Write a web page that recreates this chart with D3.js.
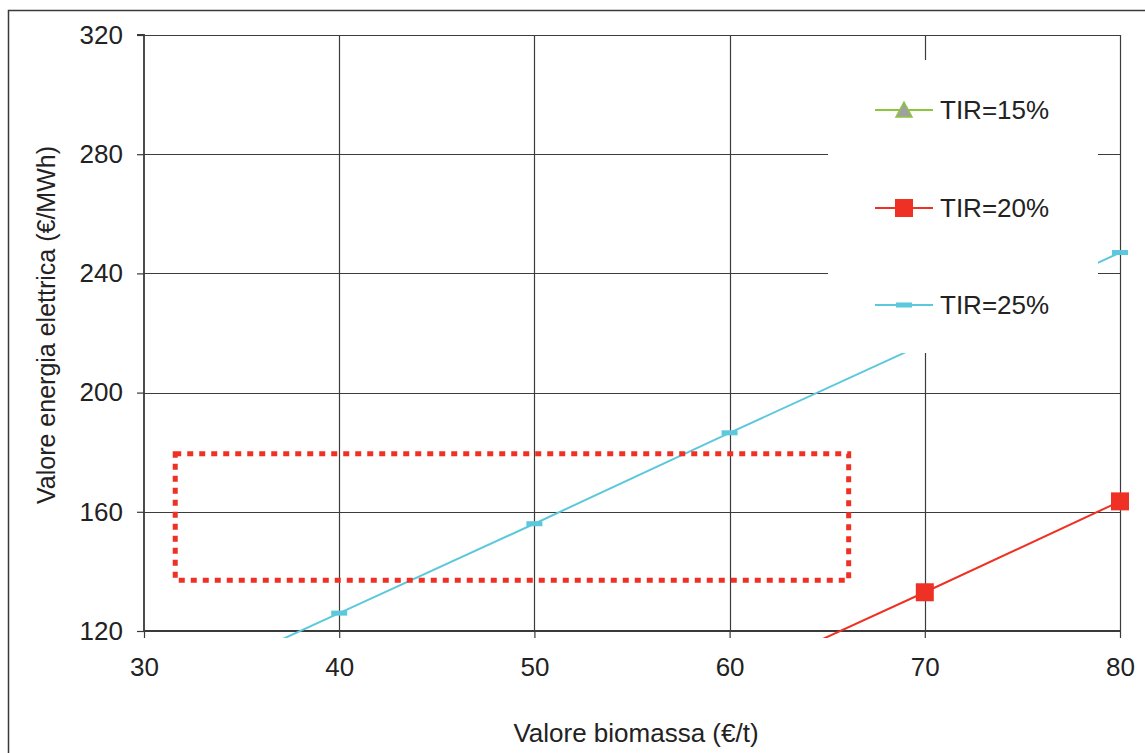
<!DOCTYPE html>
<html>
<head>
<meta charset="utf-8">
<script src="https://cdn.jsdelivr.net/npm/d3@7/dist/d3.min.js"></script>
<style>
  html, body { margin: 0; padding: 0; background: #fff; }
  svg { display: block; font-family: "Liberation Sans", Arial, sans-serif; }
</style>
</head>
<body>
<svg id="chart" width="1145" height="753"></svg>
<script>
// Biomass price (€/t) on the x axis
const biomassa = [30, 40, 50, 60, 70, 80];

// Electricity value (€/MWh) required for each internal rate of return
const tir15 = [8, 38, 68, 98, 103, 108];
const tir20 = [13, 43, 73, 103, 133, 163.5];
const tir25 = [96, 126, 156, 186.5, 216.5, 247];

const seriesNames = ["TIR=15%", "TIR=20%", "TIR=25%"];

const xTicks = [30, 40, 50, 60, 70, 80];
const yTicks = [120, 160, 200, 240, 280, 320];

// Highlighted region (biomass range x electricity value range)
const areaX = [31.6, 66.1];
const areaY = [137, 179.5];

const svg = d3.select("#chart");
const margin = { left: 144, top: 35, right: 1120, bottom: 631 };

const x = d3.scaleLinear().domain([30, 80]).range([margin.left, margin.right]);
const y = d3.scaleLinear().domain([120, 320]).range([margin.bottom, margin.top]);

// outer frame
svg.append("path")
  .attr("d", "M8.5,753 L8.5,10.5 L1145,10.5")
  .attr("fill", "none").attr("stroke", "#3a3a3a").attr("stroke-width", 1.5);

// grid
const grid = svg.append("g");
grid.selectAll("line.h").data(yTicks.slice(1)).join("line")
  .attr("x1", margin.left).attr("x2", margin.right)
  .attr("y1", d => Math.round(y(d)) + 0.5).attr("y2", d => Math.round(y(d)) + 0.5)
  .attr("stroke", "#3c3c3c").attr("stroke-width", 1.2);
grid.selectAll("line.v").data(xTicks.slice(1)).join("line")
  .attr("y1", margin.top).attr("y2", margin.bottom)
  .attr("x1", d => Math.round(x(d)) + 0.5).attr("x2", d => Math.round(x(d)) + 0.5)
  .attr("stroke", "#3c3c3c").attr("stroke-width", 1.2);

// axes
const yAxis = svg.append("g")
  .attr("transform", `translate(${margin.left},0)`)
  .call(d3.axisLeft(y).tickValues(yTicks).tickSize(7).tickPadding(14));
const xAxis = svg.append("g")
  .attr("transform", `translate(0,${margin.bottom})`)
  .call(d3.axisBottom(x).tickValues(xTicks).tickSize(7).tickPadding(20));
[yAxis, xAxis].forEach(a => {
  a.select(".domain").attr("stroke", "#3a3a3a").attr("stroke-width", 1.8);
  a.selectAll(".tick line").attr("stroke", "#3a3a3a").attr("stroke-width", 1.2);
  a.selectAll(".tick text").attr("fill", "#222").attr("font-size", 26)
    .attr("font-family", "Liberation Sans, Arial, sans-serif");
});
yAxis.select(".domain").attr("d", `M-7,${margin.top}H0V${margin.bottom}`);
xAxis.select(".domain").attr("d", `M${margin.left},0H${margin.right}`);

// axis titles
svg.append("text")
  .attr("x", 636).attr("y", 742)
  .attr("text-anchor", "middle").attr("font-size", 26).attr("fill", "#222")
  .text("Valore biomassa (€/t)");
svg.append("text")
  .attr("transform", `translate(55,${(margin.top + margin.bottom) / 2 - 8}) rotate(-90)`)
  .attr("text-anchor", "middle").attr("font-size", 25).attr("fill", "#222")
  .text("Valore energia elettrica (€/MWh)");

// clip for the data lines (ticks region included at the bottom)
svg.append("clipPath").attr("id", "plotclip").append("rect")
  .attr("x", margin.left).attr("y", margin.top)
  .attr("width", margin.right - margin.left + 20).attr("height", margin.bottom - margin.top + 7);

const plot = svg.append("g").attr("clip-path", "url(#plotclip)");
const line = d3.line().x(d => x(d[0])).y(d => y(d[1]));

const colors = ["#8cc63f", "#ee3124", "#5bc8dc"];
const allSeries = [tir15, tir20, tir25];

allSeries.forEach((vals, i) => {
  const pts = biomassa.map((b, j) => [b, vals[j]]);
  plot.append("path").datum(pts)
    .attr("d", line).attr("fill", "none")
    .attr("stroke", colors[i]).attr("stroke-width", 2);
});

// markers (only those inside the value range are visible)
const marks = svg.append("g");
function drawMarker(g, i, cx, cy) {
  if (i === 0) {
    g.append("path")
      .attr("d", `M${cx},${cy - 8}L${cx + 8},${cy + 7}L${cx - 8},${cy + 7}Z`)
      .attr("fill", "#a0a0a0").attr("stroke", colors[0]).attr("stroke-width", 1.5);
  } else if (i === 1) {
    g.append("rect").attr("x", cx - 9).attr("y", cy - 9)
      .attr("width", 18).attr("height", 18).attr("fill", colors[1]);
  } else {
    g.append("rect").attr("x", cx - 8).attr("y", cy - 2.5)
      .attr("width", 16).attr("height", 5).attr("fill", colors[2]);
  }
}
allSeries.forEach((vals, i) => {
  biomassa.forEach((b, j) => {
    if (vals[j] >= 120 && vals[j] <= 320) drawMarker(marks, i, x(b), y(vals[j]));
  });
});

// highlighted area
svg.append("rect")
  .attr("x", x(areaX[0])).attr("y", y(areaY[1]))
  .attr("width", x(areaX[1]) - x(areaX[0]))
  .attr("height", y(areaY[0]) - y(areaY[1]))
  .attr("fill", "none").attr("stroke", "#ee3124")
  .attr("stroke-width", 5).attr("stroke-dasharray", "6,6");

// legend
const legend = svg.append("g");
legend.append("rect").attr("x", 828).attr("y", 60).attr("width", 270).attr("height", 293)
  .attr("fill", "#fff");
const legendY = [110, 208, 305];
seriesNames.forEach((name, i) => {
  const ly = legendY[i];
  legend.append("line").attr("x1", 875).attr("x2", 933).attr("y1", ly).attr("y2", ly)
    .attr("stroke", colors[i]).attr("stroke-width", 2);
  drawMarker(legend, i, 904, ly);
  legend.append("text").attr("x", 940).attr("y", ly + 9)
    .attr("font-size", 26).attr("fill", "#222").text(name);
});
</script>
</body>
</html>
